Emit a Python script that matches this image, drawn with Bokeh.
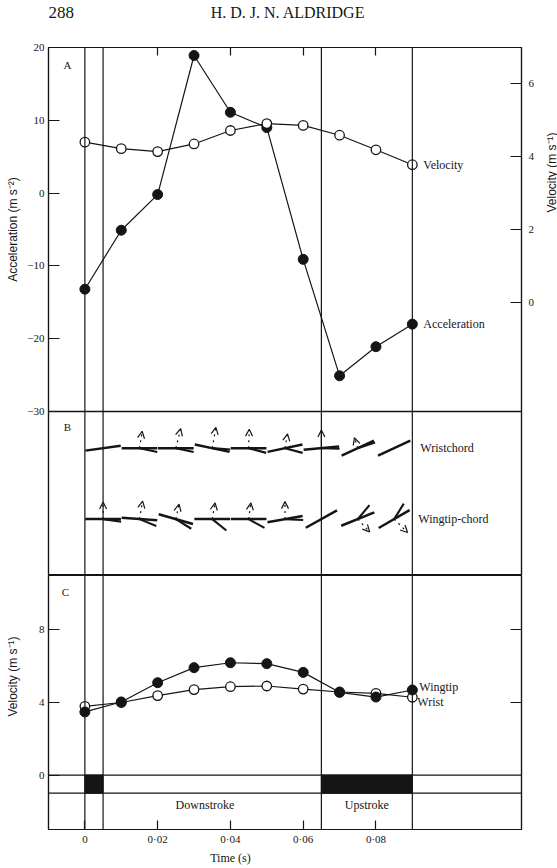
import numpy as np
from bokeh.plotting import figure
from bokeh.layouts import column, row
from bokeh.models import (Range1d, LinearAxis, FixedTicker, Span, Label, Arrow,
                          OpenHead, ColumnDataSource, CustomJSTickFormatter)
from bokeh.core.properties import value
from bokeh.embed import file_html
from bokeh.resources import INLINE

# ---------------------------------------------------------------- data
time = [0.0, 0.01, 0.02, 0.03, 0.04, 0.05, 0.06, 0.07, 0.08, 0.09]

# A: acceleration (left axis) and velocity (right axis)
acceleration = [-13.2, -5.1, -0.2, 18.9, 11.1, 9.0, -9.1, -25.1, -21.1, -18.0]
velocity = [4.40, 4.22, 4.14, 4.35, 4.72, 4.91, 4.86, 4.59, 4.19, 3.78]

# C: wingtip and wrist velocities
wingtip_velocity = [3.48, 4.03, 5.09, 5.92, 6.19, 6.14, 5.66, 4.56, 4.30, 4.69]
wrist_velocity = [3.79, 4.00, 4.38, 4.71, 4.87, 4.91, 4.74, 4.58, 4.50, 4.29]

# stroke phase boundaries (s)
stroke_marks = [0.0, 0.005, 0.065, 0.09]
upstroke_start = [0.0, 0.065]
upstroke_end = [0.005, 0.09]
band_top = [0, 0]
band_bottom = [-1, -1]
phase_names = ["Downstroke", "Upstroke"]
phase_label_time = [0.033, 0.0775]

# B: chord attitudes (degrees) and force vectors at mid-interval times
chord_time = [0.005, 0.015, 0.025, 0.035, 0.045, 0.055, 0.065, 0.075, 0.085]
nan = float("nan")
wrist_chord_angle = [8, 0, 0, -12, 0, 12, 5, 25, 25]
wrist_spur_angle = [nan, -12, -12, -4, -15, -15, -2, 18, nan]
wrist_force_angle = [nan, 81, 76, 80, 88, 80, 90, 108, nan]
wrist_force_length = [nan, 0.0047, 0.0055, 0.0058, 0.0052, 0.0040, 0.0050, 0.0030, nan]
wrist_force_solid = [False, False, False, False, False, False, True, False, False]

tip_chord_angle = [0, -4, -16, 0, 0, 10, 29, 22, 30]
tip_spur_angle = [-8, -22, -32, -39, -29, -3, nan, 50, 58]
tip_force_angle = [90, 80, 78, 80, 82, 90, nan, -47, -45]
tip_force_length = [0.0047, 0.0050, 0.0042, 0.0045, 0.0045, 0.0048, nan, 0.0048, 0.0052]
tip_force_solid = [False] * 9

# ---------------------------------------------------------------- geometry & style
INK = "#151515"
SERIF = "Liberation Serif"
SANS = "Liberation Sans"
X_RANGE = (-0.01, 0.12)
FRAME_W = 473
A_H, B_H, C_H = 364, 164, 254           # panel heights (px)
ACC = (-30, 20)
VEL = (-3, 7)
# panel A and B share one frame; B sits below A on its own scale
ACC_LOW = ACC[0] - (ACC[1] - ACC[0]) * B_H / A_H
VEL_LOW = VEL[0] - (VEL[1] - VEL[0]) * B_H / A_H
B_TOP = (X_RANGE[1] - X_RANGE[0]) * B_H / FRAME_W   # equal scale on both axes
CH_TOP = B_TOP * (A_H + B_H) / B_H
WRIST_ROW = 0.0350
TIP_ROW = 0.0155
CHORD_LEN = 0.0098
SPUR_LEN = 0.0050

LEFT_STRIP, RIGHT_STRIP = 22, 20
BORDER_L, BORDER_R = 48 - LEFT_STRIP, 36 - RIGHT_STRIP
HEADER_H, FOOTER_H = 39, 19
BODY_H = 8 + A_H + B_H + C_H + 20

minus_fmt = CustomJSTickFormatter(code="return tick < 0 ? '\\u2212' + Math.abs(tick) : '' + tick;")
blank_fmt = CustomJSTickFormatter(code="return '';")
time_fmt = CustomJSTickFormatter(
    code="return tick == 0 ? '0' : tick.toFixed(2).replace('.', '\\u00b7');")


def blank(width, height, xr, yr):
    p = figure(width=width, height=height, x_range=Range1d(*xr), y_range=Range1d(*yr),
               x_axis_location=None, y_axis_location=None,
               output_backend="svg", toolbar_location=None,
               min_border_left=0, min_border_right=0,
               min_border_top=0, min_border_bottom=0)
    p.outline_line_color = None
    p.background_fill_color = "white"
    p.border_fill_color = "white"
    p.grid.visible = False
    return p


def panel(frame_h, y_range, top, bottom):
    p = figure(frame_width=FRAME_W, frame_height=frame_h,
               x_range=Range1d(*X_RANGE), y_range=Range1d(*y_range),
               x_axis_location=None, y_axis_location=None,
               output_backend="svg", toolbar_location=None,
               min_border_left=BORDER_L, min_border_right=BORDER_R,
               min_border_top=top, min_border_bottom=bottom)
    p.outline_line_color = INK
    p.outline_line_width = 1.2
    p.background_fill_color = "white"
    p.border_fill_color = "white"
    p.grid.visible = False
    for t in stroke_marks:
        p.add_layout(Span(location=t, dimension="height",
                          line_color=INK, line_width=1.2))
    return p


def axis(ticks, fmt, tick_len, standoff, **kw):
    return LinearAxis(ticker=FixedTicker(ticks=ticks), formatter=fmt,
                      major_tick_in=tick_len, major_tick_out=0,
                      major_tick_line_color=INK, major_tick_line_width=1.2,
                      minor_tick_line_color=None, axis_line_color=INK,
                      axis_line_width=1.2, major_label_standoff=standoff,
                      major_label_text_font=SERIF,
                      major_label_text_font_size="11px",
                      major_label_text_color=INK, **kw)


def label(p, text, x, y, size="12px", font=SERIF, **kw):
    p.add_layout(Label(x=x, y=y, text=text, text_font=font,
                       text_font_size=size, text_color=INK, **kw))


# ---------------------------------------------------------------- header
head = blank(557, HEADER_H, (0, 557), (0, HEADER_H))
label(head, "288", 0, 27, size="17px", text_align="left", text_baseline="middle")
label(head, "H. D. J. N. ALDRIDGE", 282, 27, size="16px",
      text_align="center", text_baseline="middle")

# ---------------------------------------------------------------- panels A + B
pab = panel(A_H + B_H, (ACC_LOW, ACC[1]), 8, 0)
pab.extra_y_ranges = {"vel": Range1d(VEL_LOW, VEL[1]), "chord": Range1d(0, CH_TOP)}
pab.add_layout(axis([-30, -20, -10, 0, 10, 20], minus_fmt, 11, 4), "left")
pab.add_layout(axis([0, 2, 4, 6], minus_fmt, 11, 7, y_range_name="vel"), "right")
pab.add_layout(axis([0.02, 0.04, 0.06, 0.08], blank_fmt, 8, 0), "above")
pab.add_layout(Span(location=ACC[0], dimension="width", line_color=INK, line_width=1.4))

pab.line(time, acceleration, line_color=INK, line_width=1.2)
pab.scatter(time, acceleration, size=10, fill_color=INK, line_color=INK)
pab.line(time, velocity, line_color=INK, line_width=1.2, y_range_name="vel")
pab.scatter(time, velocity, size=9.5, fill_color="white", line_color=INK,
            line_width=1.3, y_range_name="vel")

label(pab, "Velocity", time[-1], velocity[-1], x_offset=11,
      text_baseline="middle", y_range_name="vel")
label(pab, "Acceleration", time[-1], acceleration[-1], x_offset=11,
      text_baseline="middle")
label(pab, "A", X_RANGE[0], ACC[1], size="11px", x_offset=19, y_offset=-17,
      text_align="center", text_baseline="middle")


def chord_row(p, row_y, chord_angle, spur_angle, force_angle, force_len, solid):
    tc = np.array(chord_time)
    a = np.radians(chord_angle)
    h = CHORD_LEN / 2
    p.segment(tc - h * np.cos(a), row_y - h * np.sin(a),
              tc + h * np.cos(a), row_y + h * np.sin(a),
              line_color=INK, line_width=2.5, y_range_name="chord")
    s = np.radians(np.array(spur_angle, dtype=float))
    ok = ~np.isnan(s)
    p.segment(tc[ok], np.full(ok.sum(), row_y),
              tc[ok] + SPUR_LEN * np.cos(s[ok]), row_y + SPUR_LEN * np.sin(s[ok]),
              line_color=INK, line_width=2.1, y_range_name="chord")
    b = np.radians(np.array(force_angle, dtype=float))
    L = np.array(force_len, dtype=float)
    has = ~np.isnan(b)
    solid = np.array(solid)
    for style, mask in (("dotted", has & ~solid), ("solid", has & solid)):
        if not mask.any():
            continue
        src = ColumnDataSource(dict(
            x0=tc[mask], y0=np.full(mask.sum(), row_y),
            x1=tc[mask] + L[mask] * np.cos(b[mask]),
            y1=row_y + L[mask] * np.sin(b[mask])))
        p.add_layout(Arrow(end=OpenHead(size=7, line_color=INK, line_width=1.2),
                           source=src, x_start="x0", y_start="y0",
                           x_end="x1", y_end="y1", line_color=INK,
                           line_width=1.2, line_dash=style, y_range_name="chord"))


chord_row(pab, WRIST_ROW, wrist_chord_angle, wrist_spur_angle,
          wrist_force_angle, wrist_force_length, wrist_force_solid)
chord_row(pab, TIP_ROW, tip_chord_angle, tip_spur_angle,
          tip_force_angle, tip_force_length, tip_force_solid)

label(pab, "Wristchord", time[-1], WRIST_ROW, x_offset=8, text_baseline="middle",
      y_range_name="chord")
label(pab, "Wingtip-chord", time[-1], TIP_ROW, x_offset=6, text_baseline="middle",
      y_range_name="chord")
label(pab, "B", X_RANGE[0], B_TOP, size="11px", x_offset=19, y_offset=-15,
      text_align="center", text_baseline="middle", y_range_name="chord")

# ---------------------------------------------------------------- panel C
pc = panel(C_H, (-3, 11), 0, 20)
pc.add_layout(axis([0, 4, 8], minus_fmt, 11, 4), "left")
pc.add_layout(axis([4, 8], blank_fmt, 11, 0), "right")
pc.add_layout(axis([0, 0.02, 0.04, 0.06, 0.08], time_fmt, 9, 3), "below")

for lvl in (band_top[0], band_bottom[0]):
    pc.add_layout(Span(location=lvl, dimension="width",
                       line_color=INK, line_width=1.2))
pc.quad(left=upstroke_start, right=upstroke_end, bottom=band_bottom,
        top=band_top, fill_color=INK, line_color=INK)
pc.text(phase_label_time, [-1.65, -1.65], text=phase_names,
        text_font=value(SERIF), text_font_size="12px", text_color=INK,
        text_align="center", text_baseline="middle")

pc.line(time, wrist_velocity, line_color=INK, line_width=1.2)
pc.scatter(time, wrist_velocity, size=9.5, fill_color="white", line_color=INK,
           line_width=1.3)
pc.line(time, wingtip_velocity, line_color=INK, line_width=1.2)
pc.scatter(time, wingtip_velocity, size=10, fill_color=INK, line_color=INK)

label(pc, "Wingtip", time[-1], wingtip_velocity[-1], x_offset=7, y_offset=3,
      text_baseline="middle")
label(pc, "Wrist", time[-1], wrist_velocity[-1], x_offset=5, y_offset=-5,
      text_baseline="middle")
label(pc, "C", X_RANGE[0], 11, size="11px", x_offset=17, y_offset=-16,
      text_align="center", text_baseline="middle")

# ---------------------------------------------------------------- side titles
left = blank(LEFT_STRIP, BODY_H, (0, LEFT_STRIP), (0, BODY_H))
label(left, "Acceleration (m s\u207b\u00b2)", 12, BODY_H - 190, font=SANS,
      angle=np.pi / 2, text_align="center", text_baseline="middle")
label(left, "Velocity (m s\u207b\u00b9)", 12, BODY_H - 637, font=SANS,
      angle=np.pi / 2, text_align="center", text_baseline="middle")

right = blank(RIGHT_STRIP, BODY_H, (0, RIGHT_STRIP), (0, BODY_H))
label(right, "Velocity (m s\u207b\u00b9)", 14, BODY_H - 133, font=SANS,
      angle=np.pi / 2, text_align="center", text_baseline="middle")

# ---------------------------------------------------------------- footer
foot = figure(frame_width=FRAME_W, frame_height=FOOTER_H,
              x_range=Range1d(*X_RANGE), y_range=Range1d(0, FOOTER_H),
              x_axis_location=None, y_axis_location=None,
              output_backend="svg", toolbar_location=None,
              min_border_left=48, min_border_right=36,
              min_border_top=0, min_border_bottom=0)
foot.outline_line_color = None
foot.border_fill_color = "white"
foot.grid.visible = False
label(foot, "Time (s)", 0.04, 11, text_align="center", text_baseline="middle")

layout = column(head, row(left, column(pab, pc), right), foot)
open("out.html", "w").write(file_html(layout, INLINE))
